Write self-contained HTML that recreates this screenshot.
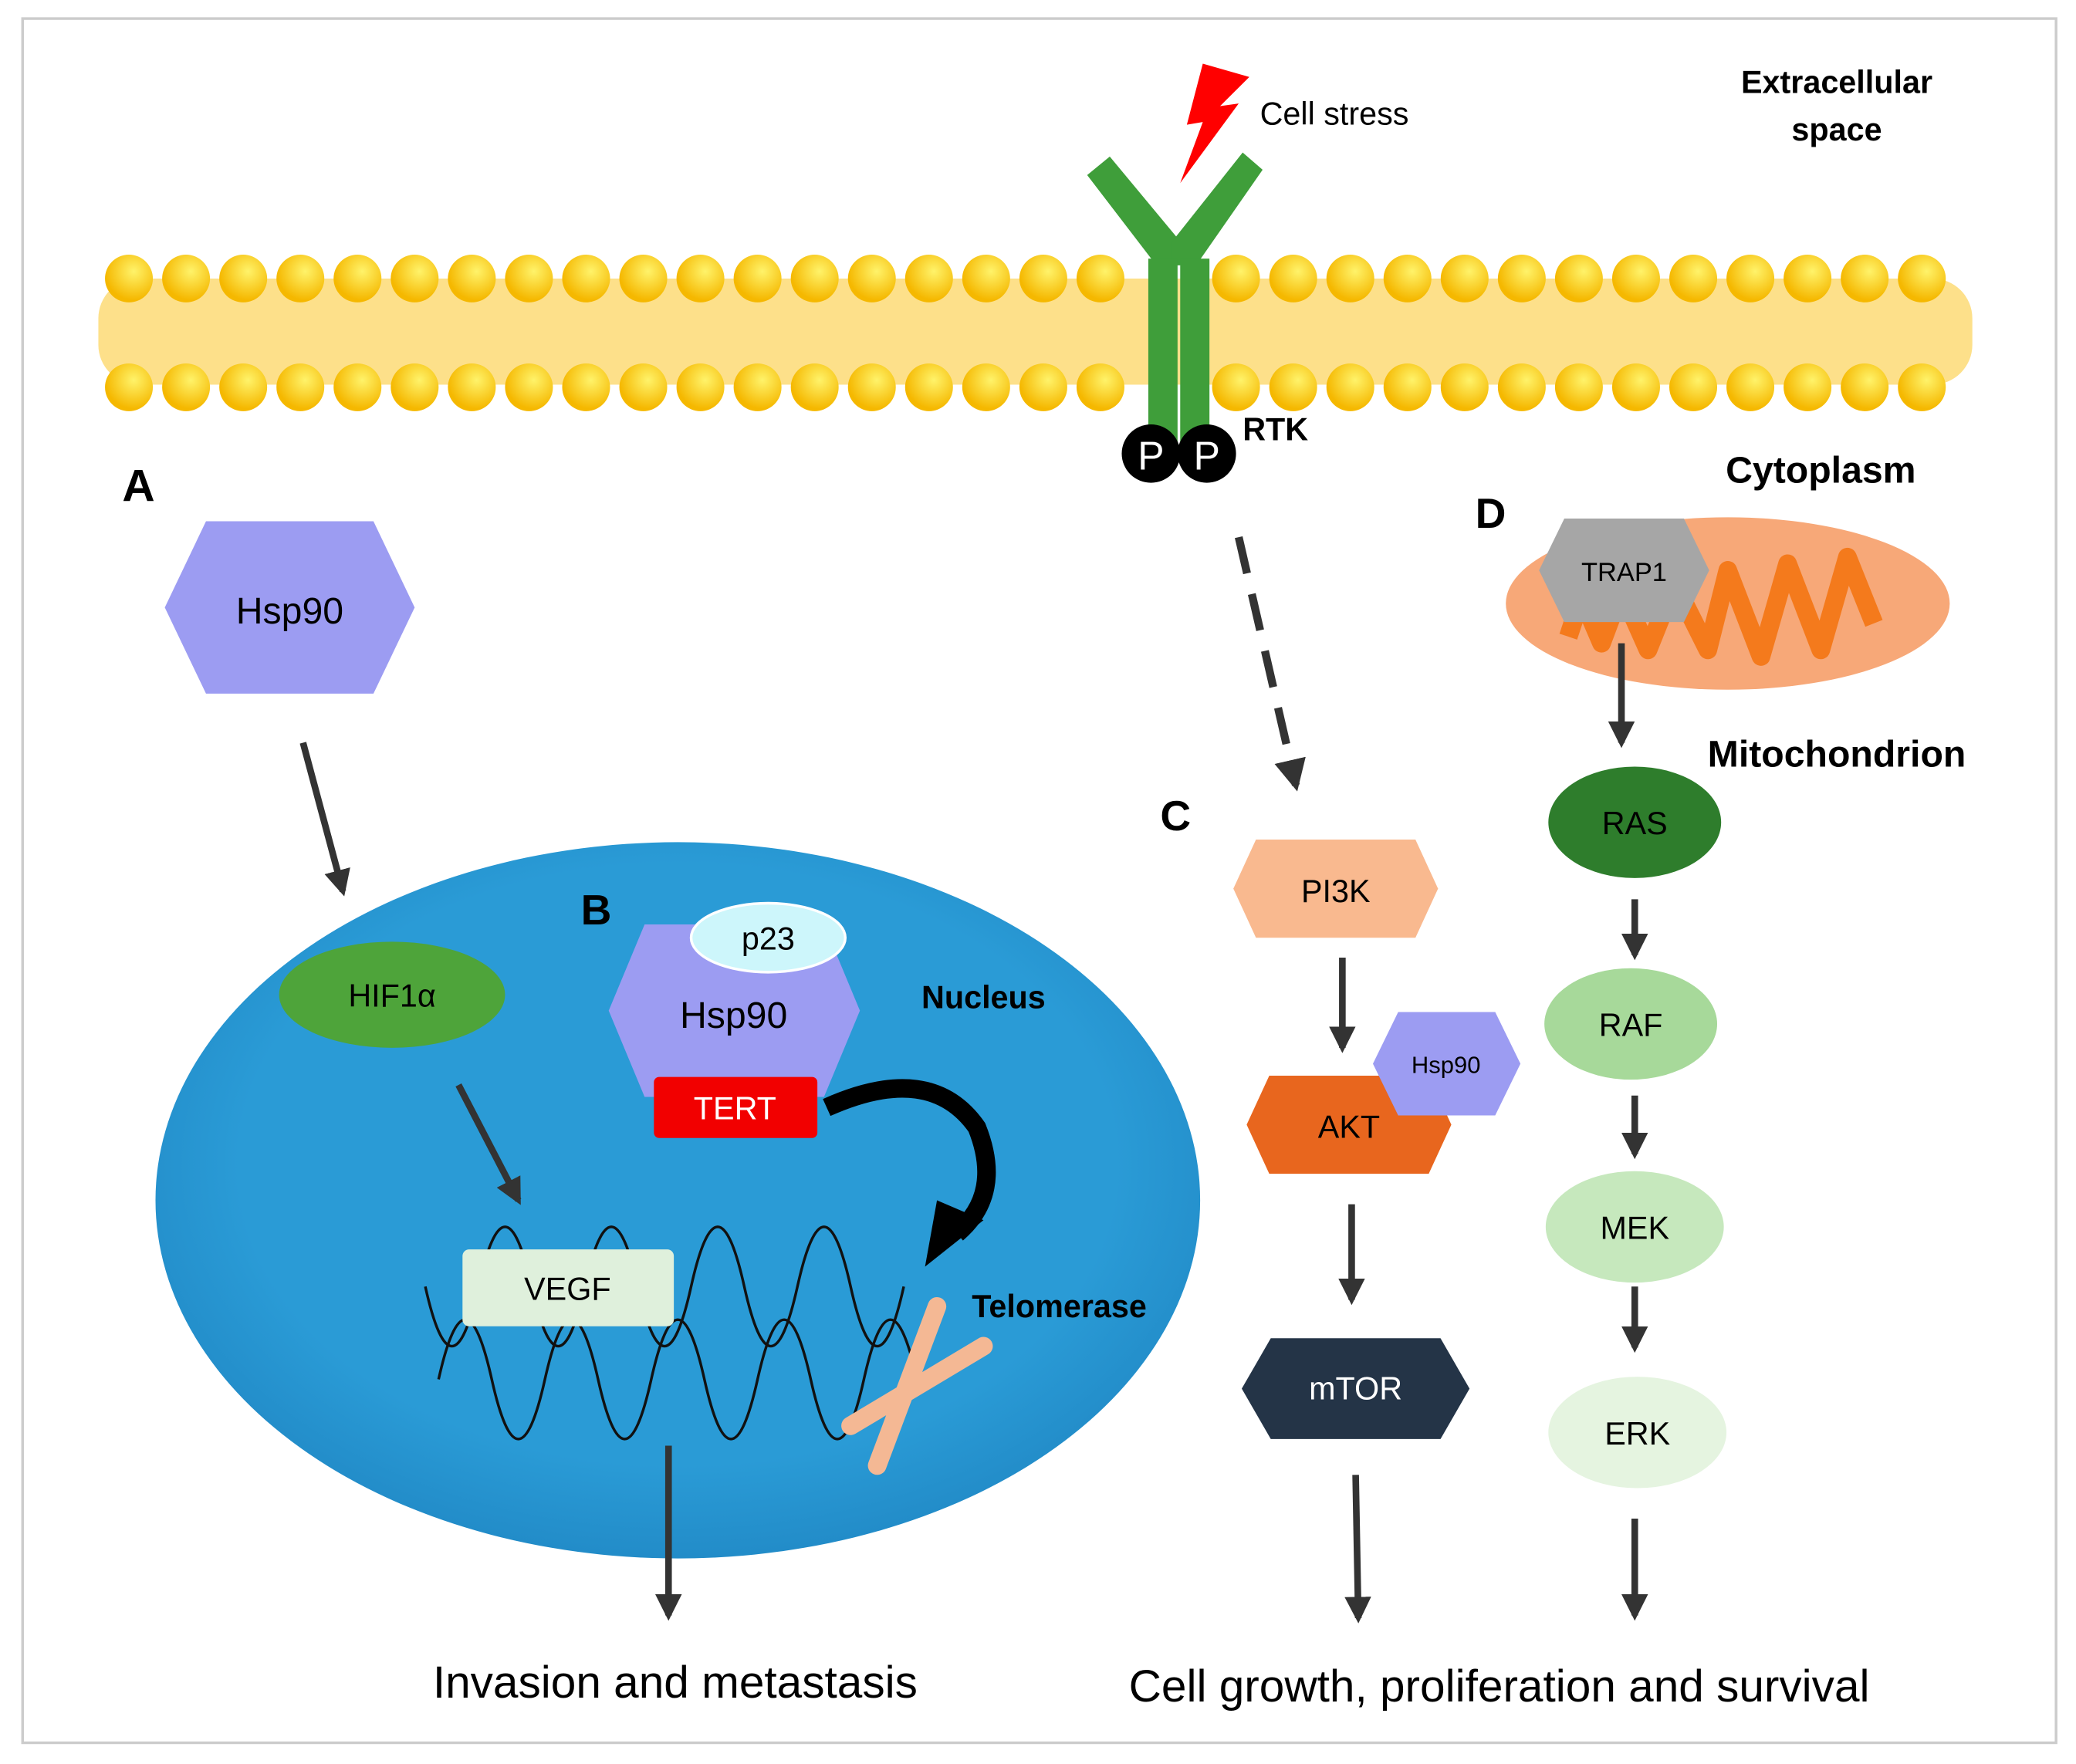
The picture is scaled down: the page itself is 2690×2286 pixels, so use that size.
<!DOCTYPE html>
<html><head><meta charset="utf-8"><style>
html,body{margin:0;padding:0;background:#fff}
svg{display:block}
text{font-family:"Liberation Sans",sans-serif}
</style></head><body>
<svg width="2690" height="2286" viewBox="0 0 1562 1330" preserveAspectRatio="none" xmlns="http://www.w3.org/2000/svg">
<defs>
<marker id="ah" viewBox="0 0 10 10" refX="8" refY="5" markerWidth="4" markerHeight="4" orient="auto"><path d="M0,0L10,5L0,10z" fill="#333"/></marker>
<radialGradient id="head" cx="0.6" cy="0.35" r="0.6"><stop offset="0" stop-color="#fff36a"/><stop offset="1" stop-color="#f5b800"/></radialGradient>
<radialGradient id="nuc" cx="0.5" cy="0.45" r="0.6"><stop offset="0.7" stop-color="#2a9bd6"/><stop offset="1" stop-color="#1f86c3"/></radialGradient>
</defs>
<rect x="17" y="14" width="1530" height="1300" fill="#fff" stroke="#ccc" stroke-width="2"/>
<!-- membrane -->
<rect x="74" y="210" width="1410" height="80" rx="30" fill="#fde08a"/>
<g fill="url(#head)">
<script>/* none */</script>
</g>
<g id="heads"></g>
<!-- heads drawn explicitly -->
<g fill="url(#head)">
<circle cx="97" cy="210" r="18"/><circle cx="140" cy="210" r="18"/><circle cx="183" cy="210" r="18"/><circle cx="226" cy="210" r="18"/><circle cx="269" cy="210" r="18"/><circle cx="312" cy="210" r="18"/><circle cx="355" cy="210" r="18"/><circle cx="398" cy="210" r="18"/><circle cx="441" cy="210" r="18"/><circle cx="484" cy="210" r="18"/><circle cx="527" cy="210" r="18"/><circle cx="570" cy="210" r="18"/><circle cx="613" cy="210" r="18"/><circle cx="656" cy="210" r="18"/><circle cx="699" cy="210" r="18"/><circle cx="742" cy="210" r="18"/><circle cx="785" cy="210" r="18"/><circle cx="828" cy="210" r="18"/><circle cx="930" cy="210" r="18"/><circle cx="973" cy="210" r="18"/><circle cx="1016" cy="210" r="18"/><circle cx="1059" cy="210" r="18"/><circle cx="1102" cy="210" r="18"/><circle cx="1145" cy="210" r="18"/><circle cx="1188" cy="210" r="18"/><circle cx="1231" cy="210" r="18"/><circle cx="1274" cy="210" r="18"/><circle cx="1317" cy="210" r="18"/><circle cx="1360" cy="210" r="18"/><circle cx="1403" cy="210" r="18"/><circle cx="1446" cy="210" r="18"/>
<circle cx="97" cy="292" r="18"/><circle cx="140" cy="292" r="18"/><circle cx="183" cy="292" r="18"/><circle cx="226" cy="292" r="18"/><circle cx="269" cy="292" r="18"/><circle cx="312" cy="292" r="18"/><circle cx="355" cy="292" r="18"/><circle cx="398" cy="292" r="18"/><circle cx="441" cy="292" r="18"/><circle cx="484" cy="292" r="18"/><circle cx="527" cy="292" r="18"/><circle cx="570" cy="292" r="18"/><circle cx="613" cy="292" r="18"/><circle cx="656" cy="292" r="18"/><circle cx="699" cy="292" r="18"/><circle cx="742" cy="292" r="18"/><circle cx="785" cy="292" r="18"/><circle cx="828" cy="292" r="18"/><circle cx="930" cy="292" r="18"/><circle cx="973" cy="292" r="18"/><circle cx="1016" cy="292" r="18"/><circle cx="1059" cy="292" r="18"/><circle cx="1102" cy="292" r="18"/><circle cx="1145" cy="292" r="18"/><circle cx="1188" cy="292" r="18"/><circle cx="1231" cy="292" r="18"/><circle cx="1274" cy="292" r="18"/><circle cx="1317" cy="292" r="18"/><circle cx="1360" cy="292" r="18"/><circle cx="1403" cy="292" r="18"/><circle cx="1446" cy="292" r="18"/>
</g>
<!-- RTK -->
<g fill="#3f9e3a">
<polygon points="818,132 835,118 888,182 888,200 870,200"/>
<polygon points="950,128 935,115 882,182 882,200 900,200"/>
<rect x="864" y="195" width="22" height="140"/><rect x="888" y="195" width="22" height="140"/>
</g>
<circle cx="866" cy="342" r="22" fill="#000"/><circle cx="908" cy="342" r="22" fill="#000"/>
<text x="866" y="354" font-size="30" fill="#fff" text-anchor="middle">P</text>
<text x="908" y="354" font-size="30" fill="#fff" text-anchor="middle">P</text>
<polygon points="905,48 940,58 918,80 932,78 888,138 905,92 893,94" fill="#f00"/>
<text x="948" y="94" font-size="24">Cell stress</text>
<text x="1382" y="70" font-size="24" font-weight="bold" text-anchor="middle">Extracellular</text>
<text x="1382" y="106" font-size="24" font-weight="bold" text-anchor="middle">space</text>
<text x="935" y="332" font-size="24" font-weight="bold">RTK</text>
<text x="1370" y="364" font-size="28" font-weight="bold" text-anchor="middle">Cytoplasm</text>
<text x="92" y="378" font-size="34" font-weight="bold">A</text>
<text x="1110" y="398" font-size="32" font-weight="bold">D</text>
<text x="873" y="626" font-size="32" font-weight="bold">C</text>
<text x="1382" y="578" font-size="28" font-weight="bold" text-anchor="middle">Mitochondrion</text>
<!-- A -->
<polygon points="124,458 155,393 281,393 312,458 281,523 155,523" fill="#9c9cf2"/>
<text x="218" y="470" font-size="28" text-anchor="middle">Hsp90</text>
<line x1="228" y1="560" x2="258" y2="672" stroke="#333" stroke-width="5" marker-end="url(#ah)"/>
<!-- Nucleus -->
<ellipse cx="510" cy="905" rx="393" ry="270" fill="url(#nuc)"/>
<text x="437" y="697" font-size="32" font-weight="bold">B</text>
<ellipse cx="295" cy="750" rx="85" ry="40" fill="#4ea43a"/>
<text x="295" y="759" font-size="24" text-anchor="middle">HIF1α</text>
<line x1="345" y1="818" x2="390" y2="905" stroke="#333" stroke-width="5" marker-end="url(#ah)"/>
<path d="M320,970 Q340,1060 360,970 T400,970 T440,970 T480,970 T520,970 T560,970 T600,970 T640,970 T680,970" fill="none" stroke="#111" stroke-width="2"/>
<path d="M330,1040 Q350,950 370,1040 T410,1040 T450,1040 T490,1040 T530,1040 T570,1040 T610,1040 T650,1040 T690,1040" fill="none" stroke="#111" stroke-width="2"/>
<rect x="348" y="942" width="159" height="58" rx="5" fill="#dff0dc"/>
<text x="427" y="980" font-size="24" text-anchor="middle">VEGF</text>
<polygon points="458,762 485,697 620,697 647,762 620,827 485,827" fill="#9c9cf2"/>
<ellipse cx="578" cy="707" rx="58" ry="26" fill="#cdf6fb" stroke="#fff" stroke-width="2"/>
<text x="578" y="716" font-size="24" text-anchor="middle">p23</text>
<text x="552" y="775" font-size="28" text-anchor="middle">Hsp90</text>
<rect x="492" y="812" width="123" height="46" rx="4" fill="#f20000"/>
<text x="553" y="844" font-size="24" fill="#fff" text-anchor="middle">TERT</text>
<text x="740" y="760" font-size="24" font-weight="bold" text-anchor="middle">Nucleus</text>
<path d="M622,835 Q700,800 735,850 Q755,900 720,930" fill="none" stroke="#000" stroke-width="14"/>
<polygon points="696,955 740,920 705,905" fill="#000"/>
<text x="797" y="993" font-size="24" font-weight="bold" text-anchor="middle">Telomerase</text>
<g stroke="#f4b894" stroke-width="14" stroke-linecap="round">
<line x1="705" y1="985" x2="660" y2="1105"/><line x1="740" y1="1015" x2="640" y2="1075"/>
</g>
<line x1="503" y1="1090" x2="503" y2="1218" stroke="#333" stroke-width="5" marker-end="url(#ah)"/>
<text x="508" y="1280" font-size="34" text-anchor="middle">Invasion and metastasis</text>
<!-- C -->
<line x1="932" y1="405" x2="975" y2="592" stroke="#333" stroke-width="6" stroke-dasharray="28,16" marker-end="url(#ah)"/>
<polygon points="928,670 945,633 1065,633 1082,670 1065,707 945,707" fill="#f9b98f"/>
<text x="1005" y="680" font-size="24" text-anchor="middle">PI3K</text>
<line x1="1010" y1="722" x2="1010" y2="790" stroke="#333" stroke-width="5" marker-end="url(#ah)"/>
<polygon points="938,848 955,811 1075,811 1092,848 1075,885 955,885" fill="#e8661e"/>
<text x="1015" y="858" font-size="24" text-anchor="middle">AKT</text>
<polygon points="1033,802 1052,763 1125,763 1144,802 1125,841 1052,841" fill="#9c9cf2"/>
<text x="1088" y="809" font-size="18" text-anchor="middle">Hsp90</text>
<line x1="1017" y1="908" x2="1017" y2="980" stroke="#333" stroke-width="5" marker-end="url(#ah)"/>
<polygon points="932,1047 955,1007 1085,1007 1108,1047 1085,1087 955,1087" fill="#243447" stroke="#fff" stroke-width="4"/>
<text x="1020" y="1055" font-size="24" fill="#fff" text-anchor="middle">mTOR</text>
<line x1="1020" y1="1112" x2="1022" y2="1220" stroke="#333" stroke-width="5" marker-end="url(#ah)"/>
<text x="1128" y="1283" font-size="34" text-anchor="middle">Cell growth, proliferation and survival</text>
<!-- D -->
<ellipse cx="1300" cy="455" rx="167" ry="65" fill="#f7a878"/>
<path d="M1180,480 L1190,450 1205,485 1220,445 1240,490 1260,440 1285,490 1300,430 1325,495 1345,425 1370,490 1390,420 1410,470" fill="none" stroke="#f47a1c" stroke-width="14" stroke-linejoin="round"/>
<polygon points="1158,430 1177,391 1267,391 1286,430 1267,469 1177,469" fill="#a6a6a6"/>
<text x="1222" y="438" font-size="20" text-anchor="middle">TRAP1</text>
<line x1="1220" y1="485" x2="1220" y2="560" stroke="#333" stroke-width="5" marker-end="url(#ah)"/>
<ellipse cx="1230" cy="620" rx="65" ry="42" fill="#2e7d2c"/>
<text x="1230" y="629" font-size="24" text-anchor="middle">RAS</text>
<line x1="1230" y1="678" x2="1230" y2="720" stroke="#333" stroke-width="5" marker-end="url(#ah)"/>
<ellipse cx="1227" cy="772" rx="65" ry="42" fill="#a7d99a"/>
<text x="1227" y="781" font-size="24" text-anchor="middle">RAF</text>
<line x1="1230" y1="826" x2="1230" y2="870" stroke="#333" stroke-width="5" marker-end="url(#ah)"/>
<ellipse cx="1230" cy="925" rx="67" ry="42" fill="#c6e8bd"/>
<text x="1230" y="934" font-size="24" text-anchor="middle">MEK</text>
<line x1="1230" y1="970" x2="1230" y2="1016" stroke="#333" stroke-width="5" marker-end="url(#ah)"/>
<ellipse cx="1232" cy="1080" rx="67" ry="42" fill="#e5f4e0"/>
<text x="1232" y="1089" font-size="24" text-anchor="middle">ERK</text>
<line x1="1230" y1="1145" x2="1230" y2="1218" stroke="#333" stroke-width="5" marker-end="url(#ah)"/>
</svg>
</body></html>
